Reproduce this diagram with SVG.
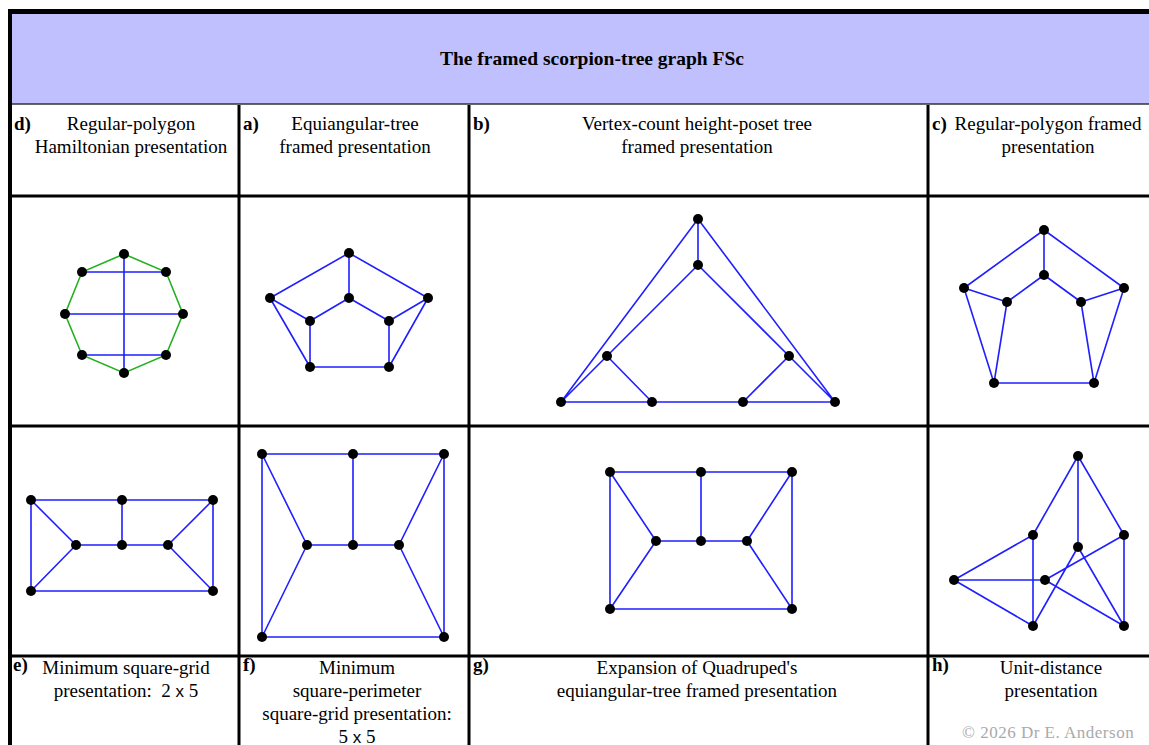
<svg xmlns="http://www.w3.org/2000/svg" width="1149" height="745" viewBox="0 0 1149 745">
<style>
.t{font-family:"Liberation Serif","Times New Roman",serif;font-size:19px;fill:#000;white-space:pre}
.c{text-anchor:middle}
.b{font-weight:bold}
.x{font-family:"Liberation Sans",Arial,sans-serif;font-size:17px}
.grid{stroke:#000;stroke-width:3;fill:none}
.e{stroke:#1f1fff;stroke-width:1.6;fill:none}
.g{stroke:#22b022;stroke-width:1.6;fill:none}
.n circle{fill:#000}
</style>
<rect x="0" y="0" width="1149" height="745" fill="#fff"/>
<rect x="12" y="14" width="1137" height="90" fill="#c0c0fe"/>
<g id="table">
<line x1="8" y1="11.5" x2="1149" y2="11.5" stroke="#000" stroke-width="5"/>
<line x1="10" y1="9" x2="10" y2="745" stroke="#000" stroke-width="4"/>
<line x1="12" y1="104" x2="1149" y2="104" stroke="#333" stroke-width="1.5"/>
<line class="grid" x1="12" y1="196" x2="1149" y2="196"/>
<line class="grid" x1="12" y1="426" x2="1149" y2="426"/>
<line class="grid" x1="12" y1="656" x2="1149" y2="656" stroke-width="3.5"/>
<line class="grid" x1="239" y1="105" x2="239" y2="745"/>
<line class="grid" x1="469" y1="105" x2="469" y2="745"/>
<line class="grid" x1="928" y1="105" x2="928" y2="745"/>
</g>
<g id="labels">
<text class="t c b" x="592" y="65" style="font-size:19.5px">The framed scorpion-tree graph FSc</text>
<text class="t b" x="14" y="130">d)</text>
<text class="t c" x="131" y="130">Regular-polygon</text>
<text class="t c" x="131" y="153">Hamiltonian presentation</text>
<text class="t b" x="243" y="130">a)</text>
<text class="t c" x="355" y="130">Equiangular-tree</text>
<text class="t c" x="355" y="153">framed presentation</text>
<text class="t b" x="473" y="130">b)</text>
<text class="t c" x="697" y="130">Vertex-count height-poset tree</text>
<text class="t c" x="697" y="153">framed presentation</text>
<text class="t b" x="932" y="130">c)</text>
<text class="t c" x="1048" y="130">Regular-polygon framed</text>
<text class="t c" x="1048" y="153">presentation</text>
<text class="t b" x="13" y="671">e)</text>
<text class="t c" x="126" y="674">Minimum square-grid</text>
<text class="t c" x="126" y="697">presentation:  2 <tspan class="x">x</tspan> 5</text>
<text class="t b" x="243" y="671">f)</text>
<text class="t c" x="357" y="674">Minimum</text>
<text class="t c" x="357" y="697">square-perimeter</text>
<text class="t c" x="357" y="720">square-grid presentation:</text>
<text class="t c" x="357" y="743">5 <tspan class="x">x</tspan> 5</text>
<text class="t b" x="473" y="671">g)</text>
<text class="t c" x="697" y="674">Expansion of Quadruped's</text>
<text class="t c" x="697" y="697">equiangular-tree framed presentation</text>
<text class="t b" x="932" y="671">h)</text>
<text class="t c" x="1051" y="674">Unit-distance</text>
<text class="t c" x="1051" y="697">presentation</text>
<text class="t" x="962" y="738" style="font-size:17px;fill:#aaa;letter-spacing:0.5px">© 2026 Dr E. Anderson</text>
</g>
<g id="connectors">
<path class="g" d="M124,254 L166,272 L183,314 L166,355 L124,373 L82,355 L65,314 L82,272 Z"/>
<path class="e" d="M82,272 H166 M65,314 H183 M82,355 H166 M124,254 V373"/>
<path class="e" d="M349,253 L270,298 M349,253 L428,298 M349,253 V298 M349,298 L310,321 M349,298 L389,321 M270,298 L310,321 M428,298 L389,321 M310,321 V367 M389,321 V367 M310,367 H389 M270,298 L310,367 M428,298 L389,367"/>
<path class="e" d="M698,219 V265 M698,219 L561,402 M698,219 L835,402 M698,265 L607,356 M698,265 L789,356 M607,356 L561,402 M607,356 L652,402 M789,356 L743,402 M789,356 L835,402 M561,402 H835"/>
<path class="e" d="M1044,230 L964,288 M1044,230 L1124,288 M1044,230 V275 M1044,275 L1007,302 M1044,275 L1081,302 M964,288 L1007,302 M1124,288 L1081,302 M964,288 L994,383 M1124,288 L1094,383 M1007,302 L994,383 M1081,302 L1094,383 M994,383 H1094"/>
<path class="e" d="M31,500 H213 M31,500 V591 M213,500 V591 M31,591 H213 M31,500 L76,545 M31,591 L76,545 M213,500 L168,545 M213,591 L168,545 M76,545 H168 M122,500 V545"/>
<path class="e" d="M262,454 H444 M262,454 V637 M444,454 V637 M262,637 H444 M262,454 L307,545 M262,637 L307,545 M444,454 L399,545 M444,637 L399,545 M307,545 H399 M353,454 V545"/>
<path class="e" d="M610,472 H792 M610,472 V609 M792,472 V609 M610,609 H792 M610,472 L656,541 M610,609 L656,541 M792,472 L747,541 M792,609 L747,541 M656,541 H747 M701,472 V541"/>
<path class="e" d="M1078,456 L1033,535 M1078,456 L1124,535 M1078,456 V547 M1033,535 L954,580 M1033,535 V626 M954,580 H1045 M954,580 L1033,626 M1124,535 L1045,580 M1124,535 V626 M1078,547 L1033,626 M1078,547 L1124,626 M1045,580 L1124,626"/>
</g>
<g class="n">
<g id="d1"><circle cx="124" cy="254" r="5"/></g>
<g id="d2"><circle cx="82" cy="272" r="5"/></g>
<g id="d3"><circle cx="166" cy="272" r="5"/></g>
<g id="d4"><circle cx="65" cy="314" r="5"/></g>
<g id="d5"><circle cx="183" cy="314" r="5"/></g>
<g id="d6"><circle cx="82" cy="355" r="5"/></g>
<g id="d7"><circle cx="166" cy="355" r="5"/></g>
<g id="d8"><circle cx="124" cy="373" r="5"/></g>
<g id="a1"><circle cx="349" cy="253" r="5"/></g>
<g id="a2"><circle cx="270" cy="298" r="5"/></g>
<g id="a3"><circle cx="428" cy="298" r="5"/></g>
<g id="a4"><circle cx="349" cy="298" r="5"/></g>
<g id="a5"><circle cx="310" cy="321" r="5"/></g>
<g id="a6"><circle cx="389" cy="321" r="5"/></g>
<g id="a7"><circle cx="310" cy="367" r="5"/></g>
<g id="a8"><circle cx="389" cy="367" r="5"/></g>
<g id="b1"><circle cx="698" cy="219" r="5"/></g>
<g id="b2"><circle cx="698" cy="265" r="5"/></g>
<g id="b3"><circle cx="607" cy="356" r="5"/></g>
<g id="b4"><circle cx="789" cy="356" r="5"/></g>
<g id="b5"><circle cx="561" cy="402" r="5"/></g>
<g id="b6"><circle cx="652" cy="402" r="5"/></g>
<g id="b7"><circle cx="743" cy="402" r="5"/></g>
<g id="b8"><circle cx="835" cy="402" r="5"/></g>
<g id="c1"><circle cx="1044" cy="230" r="5"/></g>
<g id="c2"><circle cx="1044" cy="275" r="5"/></g>
<g id="c3"><circle cx="964" cy="288" r="5"/></g>
<g id="c4"><circle cx="1124" cy="288" r="5"/></g>
<g id="c5"><circle cx="1007" cy="302" r="5"/></g>
<g id="c6"><circle cx="1081" cy="302" r="5"/></g>
<g id="c7"><circle cx="994" cy="383" r="5"/></g>
<g id="c8"><circle cx="1094" cy="383" r="5"/></g>
<g id="e1"><circle cx="31" cy="500" r="5"/></g>
<g id="e2"><circle cx="122" cy="500" r="5"/></g>
<g id="e3"><circle cx="213" cy="500" r="5"/></g>
<g id="e4"><circle cx="76" cy="545" r="5"/></g>
<g id="e5"><circle cx="122" cy="545" r="5"/></g>
<g id="e6"><circle cx="168" cy="545" r="5"/></g>
<g id="e7"><circle cx="31" cy="591" r="5"/></g>
<g id="e8"><circle cx="213" cy="591" r="5"/></g>
<g id="f1"><circle cx="262" cy="454" r="5"/></g>
<g id="f2"><circle cx="353" cy="454" r="5"/></g>
<g id="f3"><circle cx="444" cy="454" r="5"/></g>
<g id="f4"><circle cx="307" cy="545" r="5"/></g>
<g id="f5"><circle cx="353" cy="545" r="5"/></g>
<g id="f6"><circle cx="399" cy="545" r="5"/></g>
<g id="f7"><circle cx="262" cy="637" r="5"/></g>
<g id="f8"><circle cx="444" cy="637" r="5"/></g>
<g id="g1"><circle cx="610" cy="472" r="5"/></g>
<g id="g2"><circle cx="701" cy="472" r="5"/></g>
<g id="g3"><circle cx="792" cy="472" r="5"/></g>
<g id="g4"><circle cx="656" cy="541" r="5"/></g>
<g id="g5"><circle cx="701" cy="541" r="5"/></g>
<g id="g6"><circle cx="747" cy="541" r="5"/></g>
<g id="g7"><circle cx="610" cy="609" r="5"/></g>
<g id="g8"><circle cx="792" cy="609" r="5"/></g>
<g id="h1"><circle cx="1078" cy="456" r="5"/></g>
<g id="h2"><circle cx="1033" cy="535" r="5"/></g>
<g id="h3"><circle cx="1124" cy="535" r="5"/></g>
<g id="h4"><circle cx="1078" cy="547" r="5"/></g>
<g id="h5"><circle cx="954" cy="580" r="5"/></g>
<g id="h6"><circle cx="1045" cy="580" r="5"/></g>
<g id="h7"><circle cx="1033" cy="626" r="5"/></g>
<g id="h8"><circle cx="1124" cy="626" r="5"/></g>
</g>
</svg>
